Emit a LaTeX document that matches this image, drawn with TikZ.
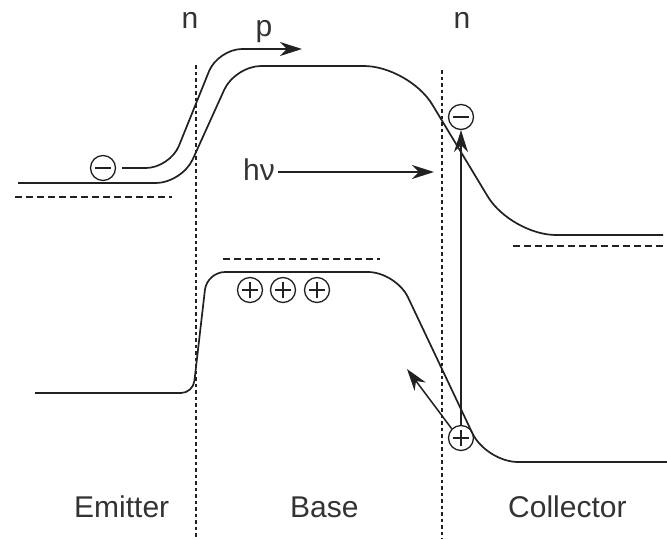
\documentclass[tikz,border=0pt]{standalone}
\usepackage{fontspec}
\setmainfont{Liberation Sans}
\usetikzlibrary{arrows.meta}
\definecolor{ink}{gray}{0.13}
\definecolor{txt}{gray}{0.2}
\begin{document}
\begin{tikzpicture}[x=1pt,y=-1pt,
  band/.style={line width=1.7pt, draw=ink, line join=round},
  dotline/.style={line width=1.7pt, draw=ink, dash pattern=on 3.5pt off 3pt},
  dashline/.style={line width=1.5pt, draw=ink, dash pattern=on 7pt off 4pt},
  tip/.style={-{Stealth[length=22pt,width=14pt,inset=7pt]}},
  arr/.style={line width=1.5pt, draw=ink, tip},
  lbl/.style={text=txt, font=\fontsize{30}{36}\selectfont, inner sep=0pt},
  chg/.style={circle, draw=ink, line width=1.3pt, minimum size=25pt, inner sep=0pt},
  minuscirc/.style={chg, path picture={\draw[ink,line width=1.3pt] ([xshift=-8pt]path picture bounding box.center) -- ([xshift=8pt]path picture bounding box.center);}},
  pluscirc/.style={chg, path picture={\draw[ink,line width=1.3pt] ([xshift=-8pt]path picture bounding box.center) -- ([xshift=8pt]path picture bounding box.center) ([yshift=-8pt]path picture bounding box.center) -- ([yshift=8pt]path picture bounding box.center);}}
]
\useasboundingbox (0,0) rectangle (667,539);

% junction lines
\draw[dotline] (196,65) -- (196,539);
\draw[dotline] (442,70) -- (442,539);

% Fermi-level dashes
\draw[dashline] (15,197) -- (172,197);
\draw[dashline] (223,259) -- (380,259);
\draw[dashline] (513,246) -- (667,246);

% conduction band
\draw[band, rounded corners=26] (18,183) -- (182,183) -- (235,66) [rounded corners=45] -- (409,66) -- (511,235) -- (663,235);

% valence band
\draw[band, rounded corners=12] (35,393) -- (193,393) [rounded corners=18] -- (207,272) [rounded corners=28] -- (396,272) [rounded corners=32] -- (486,462) -- (667,462);

% electron and its path
\node[minuscirc] (e1) at (103,168) {};
\coordinate (pend) at (302,49);
\draw[band, rounded corners=24, tip] ([xshift=6pt]e1.east) -- (170,168) -- (218,49) -- (pend);

% holes in base
\node[pluscirc] (h1) at (250,290) {};
\node[pluscirc] (h2) at (283,290) {};
\node[pluscirc] (h3) at (317,290) {};

% photo-generated pair
\node[minuscirc] (e2) at (461,117) {};
\node[pluscirc] (h4) at (461,438) {};
\draw[arr] (h4.north) -- (e2.south);
\coordinate (htip) at (407,369);
\draw[arr] (h4.north west) -- (htip);

% photon
\node[lbl, anchor=base west] (hv) at (243,180) {hν};
\coordinate (hvend) at (434,172);
\draw[arr] ([xshift=3pt]hv.east |- hvend) -- (hvend);

% labels
\node[lbl, anchor=base] (n1) at (190,28) {n};
\node[lbl, anchor=base] (p1) at (264,36) {p};
\node[lbl, anchor=base] (n2) at (462,28) {n};
\node[lbl, anchor=base west] (em) at (74,517) {Emitter};
\node[lbl, anchor=base west] (ba) at (290,517) {Base};
\node[lbl, anchor=base west] (co) at (508,517) {Collector};
\end{tikzpicture}
\end{document}
